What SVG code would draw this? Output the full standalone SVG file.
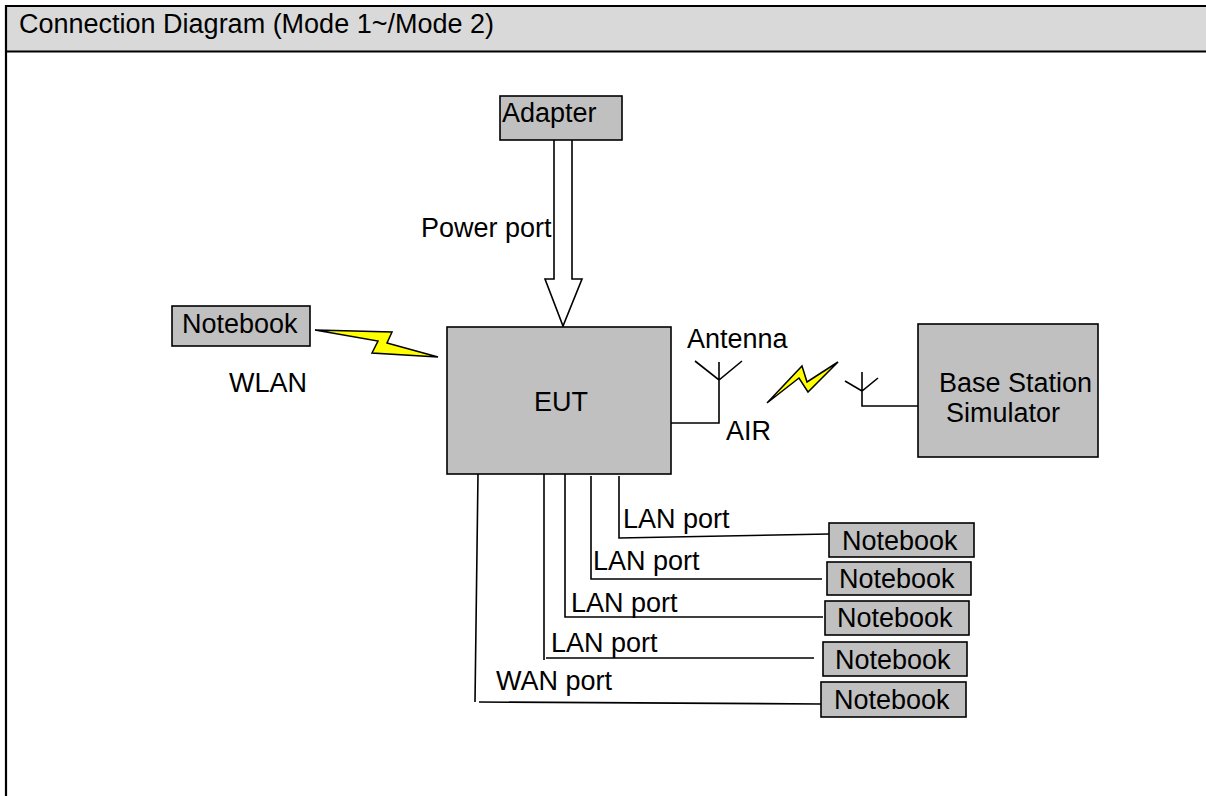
<svg xmlns="http://www.w3.org/2000/svg" width="1206" height="796" viewBox="0 0 1206 796">
<style>
text{font-family:"Liberation Sans",Arial,sans-serif;font-size:27px;fill:#000}
.box{fill:#c0c0c0;stroke:#000;stroke-width:1.6}
.ln{fill:none;stroke:#000;stroke-width:1.6}
.bolt{fill:#ffff00;stroke:#000;stroke-width:1.5;stroke-linejoin:miter}
</style>
<rect width="1206" height="796" fill="#fff"/>
<g id="header">
<rect x="6" y="6" width="1200" height="45.5" fill="#d9d9d9"/>
<line x1="5" y1="6" x2="1206" y2="6" stroke="#000" stroke-width="2"/>
<line x1="5" y1="51.5" x2="1206" y2="51.5" stroke="#000" stroke-width="2"/>
<line x1="6" y1="5" x2="6" y2="796" stroke="#000" stroke-width="2.2"/>
<text x="19" y="33">Connection Diagram (Mode 1~/Mode 2)</text>
</g>
<g id="connectors">
<path class="ln" d="M554,140 V279 H545 L563,326 L582,279 H572 V140" style="fill:#fff"/>
<text x="421" y="237">Power port</text>
<polygon class="bolt" points="315,330 392,332 387,343 438,357 372,353 378,341"/>
<text x="229" y="392">WLAN</text>
<path class="ln" d="M671,423 H719 V362 M695,361 L719,380 L742,361"/>
<text x="687" y="348">Antenna</text>
<text x="726" y="440">AIR</text>
<polygon class="bolt" points="767,403 802,366 807,382 838,362 808,392 799,378"/>
<path class="ln" d="M845,381 L862,391 L878,378 M862,372 V406 H918"/>
<path class="ln" d="M619,476 V538 L829,534"/>
<text x="623" y="528">LAN port</text>
<path class="ln" d="M591,476 V579 H822"/>
<text x="593" y="570">LAN port</text>
<path class="ln" d="M565,472 V617 H823"/>
<text x="571" y="612">LAN port</text>
<path class="ln" d="M544,474 V660 M546,658 H814"/>
<text x="551" y="652">LAN port</text>
<path class="ln" d="M478,474 L475,702 M479,702 L821,704"/>
<text x="496" y="690">WAN port</text>
</g>
<g id="adapter">
<rect class="box" x="500" y="96" width="122" height="44"/>
<text x="502" y="122">Adapter</text>
</g>
<g id="eut">
<rect class="box" x="447" y="327" width="224" height="147"/>
<text x="561" y="411" text-anchor="middle">EUT</text>
</g>
<g id="notebook-wlan">
<rect class="box" x="172" y="306" width="138" height="40"/>
<text x="182" y="333">Notebook</text>
</g>
<g id="base-station">
<rect class="box" x="918" y="324" width="180" height="133"/>
<text x="939" y="392">Base Station</text>
<text x="946" y="422">Simulator</text>
</g>
<g id="notebook-1">
<rect class="box" x="829" y="523" width="145" height="34"/>
<text x="842" y="550">Notebook</text>
</g>
<g id="notebook-2">
<rect class="box" x="827" y="562" width="144" height="33"/>
<text x="839" y="588">Notebook</text>
</g>
<g id="notebook-3">
<rect class="box" x="825" y="601" width="144" height="34"/>
<text x="837" y="627">Notebook</text>
</g>
<g id="notebook-4">
<rect class="box" x="823" y="642" width="144" height="34"/>
<text x="835" y="669">Notebook</text>
</g>
<g id="notebook-5">
<rect class="box" x="821" y="682" width="145" height="35"/>
<text x="834" y="709">Notebook</text>
</g>
</svg>
